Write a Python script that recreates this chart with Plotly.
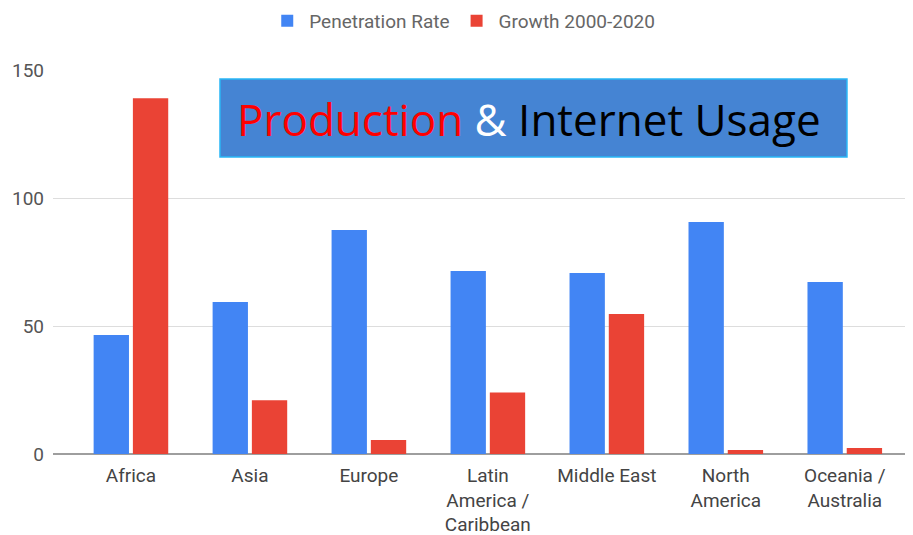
import plotly.graph_objects as go

categories = ["Africa", "Asia", "Europe", "Latin<br>America /<br>Caribbean",
              "Middle East", "North<br>America", "Oceania /<br>Australia"]
penetration = [46.5, 59.4, 87.5, 71.5, 70.7, 90.6, 67.2]
growth = [139, 21, 5.5, 24, 54.7, 1.6, 2.3]
y_ticks = [0, 50, 100, 150]

fig = go.Figure()
fig.add_trace(go.Bar(name="Penetration Rate", x=categories, y=penetration,
                     marker=dict(color="#4285F4", line=dict(width=0))))
fig.add_trace(go.Bar(name="Growth 2000-2020", x=categories, y=growth,
                     marker=dict(color="#EA4335", line=dict(width=0))))

fig.update_layout(
    width=913, height=535,
    margin=dict(l=45, r=9, t=62, b=89, autoexpand=False),
    paper_bgcolor="white", plot_bgcolor="white",
    barmode="group", bargap=0.34, bargroupgap=0.1,
    font=dict(family="Roboto, Arial, sans-serif", color="#444444"),
    legend=dict(orientation="h", x=0.477, xanchor="center",
                y=1.128, yanchor="middle",
                font=dict(size=19, color="#666666"), itemwidth=34),
    xaxis=dict(range=[-0.655, 6.565], showgrid=False, tickfont=dict(size=19, color="#444444"),
               ticks="", showline=False, automargin=False, ticklabelstandoff=8),
    yaxis=dict(range=[0, 150], tickvals=y_ticks, gridcolor="#dddddd", gridwidth=1,
               zeroline=True, zerolinecolor="#9e9e9e", zerolinewidth=2,
               tickfont=dict(size=19, color="#555555"), ticks="", ticklabelstandoff=8,
               automargin=False),
    showlegend=True,
)

fig.add_shape(type="rect", xref="paper", yref="paper",
              x0=0.1944, x1=0.9243, y0=0.7734, y1=0.9766,
              fillcolor="#4584D3", line=dict(color="#29B6F6", width=1.5), layer="above")
fig.add_annotation(xref="paper", yref="paper", x=0.554, y=0.872, showarrow=False,
                   xanchor="center", yanchor="middle",
                   text="<span style='color:#FF0000'>Production</span> "
                        "<span style='color:#FFFFFF'>&</span> "
                        "<span style='color:#000000'>Internet Usage</span>",
                   font=dict(family="Open Sans", size=44))

fig.write_html("out.html")
